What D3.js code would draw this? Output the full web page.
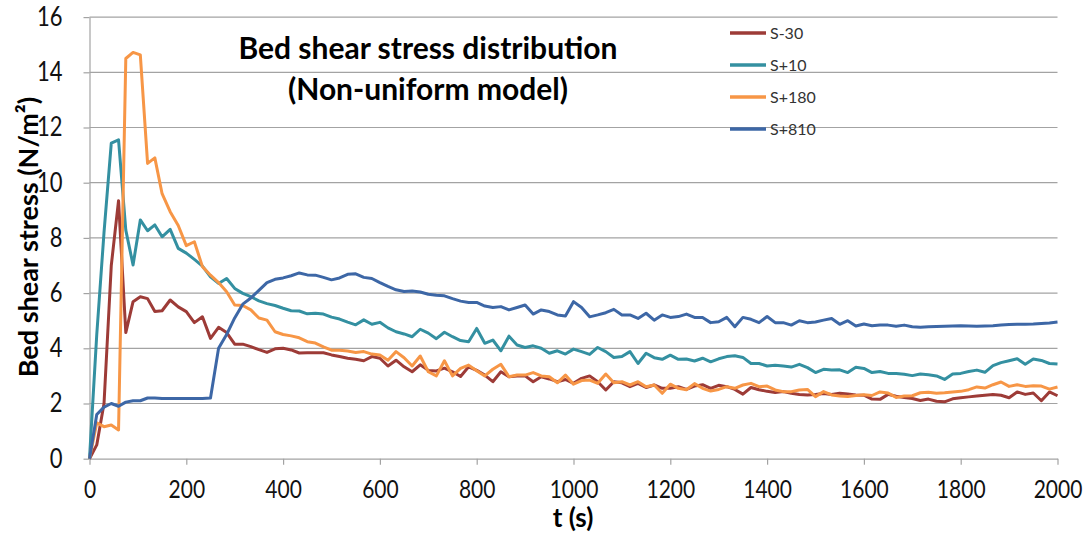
<!DOCTYPE html>
<html>
<head>
<meta charset="utf-8">
<script src="https://cdn.jsdelivr.net/npm/d3@7"></script>
<style>
  body { margin: 0; background: #fff; }
  svg { display: block; }
  text { font-family: Lato, "Open Sans", "DejaVu Sans", sans-serif; }
</style>
</head>
<body>
<svg id="chart" width="1090" height="533"></svg>
<script>
// Sampling times (s): finer steps at the start, then a regular 16.67 s output interval
const timesEarly = [0, 15, 30, 45, 60, 75, 90, 105, 120, 135];
const times = timesEarly.concat(d3.range(112).map(k => 150 + k * 50 / 3));

// Bed shear stress (N/m²) at each sampling time
const sMinus30 = [
  0, 0.5, 2.0, 7.0, 9.35, 4.57, 5.69, 5.87, 5.8, 5.33, 5.36, 5.75, 5.5, 5.33, 4.93, 5.14, 4.36, 4.76, 4.57, 4.15, 4.15, 4.06, 3.95, 3.85, 3.98,
  4.0, 3.94, 3.83, 3.84, 3.84, 3.84, 3.76, 3.70, 3.64, 3.60, 3.55, 3.70, 3.64, 3.36, 3.57, 3.33, 3.15, 3.40, 3.2, 3.18, 3.28, 3.15, 2.98, 3.33,
  3.2, 3.03, 2.79, 3.15, 2.97, 3.0, 3.0, 2.79, 2.97, 2.89, 2.79, 2.87, 2.73, 2.91, 3.0, 2.79, 2.49, 2.79, 2.75, 2.61, 2.73, 2.58, 2.67, 2.55,
  2.55, 2.61, 2.51, 2.63, 2.68, 2.55, 2.66, 2.61, 2.51, 2.34, 2.58, 2.5, 2.44, 2.40, 2.43, 2.37, 2.33, 2.31, 2.33, 2.36, 2.33, 2.37, 2.34, 2.31,
  2.3, 2.16, 2.15, 2.33, 2.26, 2.22, 2.18, 2.11, 2.16, 2.08, 2.06, 2.17, 2.21, 2.24, 2.27, 2.3, 2.33, 2.3, 2.21, 2.42, 2.33, 2.38, 2.1, 2.42, 2.28
];
const sPlus10 = [
  0, 4.5, 8.2, 11.43, 11.55, 8.28, 7.02, 8.65, 8.26, 8.47, 8.04, 8.31, 7.62, 7.45, 7.22, 6.98, 6.59, 6.35, 6.53, 6.17, 5.99, 5.87, 5.72, 5.62, 5.55,
  5.45, 5.36, 5.35, 5.25, 5.27, 5.24, 5.13, 5.06, 4.95, 4.85, 5.03, 4.87, 4.94, 4.74, 4.6, 4.52, 4.42, 4.69, 4.55, 4.35, 4.58, 4.42, 4.28, 4.24,
  4.72, 4.18, 4.30, 3.91, 4.44, 4.12, 4.03, 4.09, 4.0, 3.82, 3.91, 3.79, 3.97, 3.88, 3.78, 4.03, 3.88, 3.67, 3.70, 3.88, 3.45, 3.82, 3.66, 3.60,
  3.75, 3.60, 3.61, 3.54, 3.64, 3.51, 3.62, 3.70, 3.73, 3.67, 3.45, 3.45, 3.36, 3.39, 3.36, 3.32, 3.42, 3.30, 3.12, 3.24, 3.21, 3.22, 3.12, 3.31,
  3.27, 3.12, 3.16, 3.09, 3.09, 3.06, 3.01, 3.07, 3.04, 3.0, 2.87, 3.07, 3.09, 3.16, 3.21, 3.13, 3.37, 3.48, 3.55, 3.62, 3.42, 3.61, 3.56, 3.45, 3.43
];
const sPlus180 = [
  0, 1.3, 1.16, 1.22, 1.04, 14.5, 14.72, 14.63, 10.7, 10.9, 9.6, 8.95, 8.45, 7.72, 7.86, 6.96, 6.65, 6.38, 6.05, 5.57, 5.55, 5.39, 5.1, 5.02, 4.6,
  4.5, 4.45, 4.38, 4.24, 4.19, 4.05, 3.93, 3.93, 3.9, 3.85, 3.88, 3.79, 3.76, 3.57, 3.88, 3.66, 3.36, 3.72, 3.15, 3.0, 3.55, 3.0, 3.27, 3.39,
  3.19, 3.0, 3.24, 3.42, 2.97, 3.03, 3.03, 3.12, 3.0, 2.97, 2.75, 3.03, 2.70, 2.83, 2.85, 2.73, 3.07, 2.75, 2.79, 2.67, 2.79, 2.61, 2.67, 2.37,
  2.7, 2.55, 2.5, 2.72, 2.55, 2.45, 2.51, 2.61, 2.55, 2.67, 2.73, 2.61, 2.63, 2.49, 2.43, 2.43, 2.49, 2.51, 2.25, 2.43, 2.31, 2.27, 2.25, 2.29,
  2.32, 2.29, 2.42, 2.38, 2.22, 2.27, 2.28, 2.39, 2.41, 2.37, 2.39, 2.42, 2.44, 2.5, 2.6, 2.56, 2.68, 2.78, 2.62, 2.68, 2.62, 2.64, 2.63, 2.52, 2.6
];
const sPlus810 = [
  0, 1.6, 1.87, 2.0, 1.9, 2.05, 2.1, 2.1, 2.2, 2.2, 2.18, 2.18, 2.18, 2.18, 2.18, 2.18, 2.2, 4.0, 4.5, 5.1, 5.6, 5.82, 6.1, 6.38, 6.5,
  6.55, 6.63, 6.73, 6.66, 6.65, 6.57, 6.48, 6.55, 6.68, 6.70, 6.57, 6.53, 6.38, 6.24, 6.12, 6.06, 6.08, 6.04, 5.96, 5.92, 5.9, 5.8, 5.71, 5.66,
  5.66, 5.53, 5.48, 5.51, 5.39, 5.48, 5.57, 5.24, 5.39, 5.33, 5.21, 5.17, 5.69, 5.48, 5.14, 5.21, 5.29, 5.41, 5.21, 5.21, 5.08, 5.27, 5.02, 5.21,
  5.12, 5.15, 5.24, 5.12, 5.12, 4.93, 4.96, 5.12, 4.78, 5.12, 5.05, 4.93, 5.15, 4.93, 4.93, 4.84, 5.0, 4.93, 4.95, 5.02, 5.08, 4.87, 5.0, 4.81,
  4.88, 4.82, 4.84, 4.84, 4.80, 4.84, 4.78, 4.76, 4.78, 4.79, 4.80, 4.81, 4.82, 4.81, 4.80, 4.81, 4.82, 4.84, 4.86, 4.87, 4.87, 4.88, 4.90, 4.92, 4.95
];

const seriesNames = ["S-30", "S+10", "S+180", "S+810"];
const seriesColors = ["#9d3b37", "#3490a1", "#f79646", "#3d67a6"];
const seriesValues = [sMinus30, sPlus10, sPlus180, sPlus810];

const xTicks = d3.range(0, 2001, 200);
const yTicks = d3.range(0, 17, 2);

const svg = d3.select("#chart");
const plot = { left: 89.5, right: 1057.5, top: 17.1, bottom: 458.7 };

const x = d3.scaleLinear().domain([0, 2000]).range([plot.left, plot.right]);
const y = d3.scaleLinear().domain([0, 16]).range([plot.bottom, plot.top]);

const axisGrey = "#a3a3a3";
const labelFont = "Lato, 'Open Sans', sans-serif";

// Horizontal gridlines
svg.append("g")
  .selectAll("line")
  .data(yTicks.filter(v => v > 0))
  .join("line")
  .attr("x1", plot.left).attr("x2", plot.right)
  .attr("y1", d => y(d)).attr("y2", d => y(d))
  .attr("stroke", axisGrey).attr("stroke-width", 1.2);

// Y axis
const yAxis = svg.append("g")
  .attr("transform", `translate(${plot.left},0)`)
  .call(d3.axisLeft(y).tickValues(yTicks).tickFormat(d3.format("d"))
    .tickSize(6).tickSizeOuter(0).tickPadding(21));
yAxis.select(".domain").attr("stroke", axisGrey).attr("stroke-width", 1.2);
yAxis.selectAll(".tick line").attr("stroke", axisGrey).attr("stroke-width", 1.2);
yAxis.selectAll(".tick text")
  .attr("font-size", 22).attr("fill", "#111").attr("font-family", labelFont)
  .attr("transform", "scale(1,1.2)");

// X axis
const xAxis = svg.append("g")
  .attr("transform", `translate(0,${plot.bottom})`)
  .call(d3.axisBottom(x).tickValues(xTicks).tickFormat(d3.format("d"))
    .tickSize(6).tickSizeOuter(0).tickPadding(17));
xAxis.select(".domain").attr("stroke", axisGrey).attr("stroke-width", 1.2);
xAxis.selectAll(".tick line").attr("stroke", axisGrey).attr("stroke-width", 1.2);
xAxis.selectAll(".tick text")
  .attr("font-size", 21).attr("fill", "#111").attr("font-family", labelFont)
  .attr("transform", "translate(0,31) scale(1,1.2) translate(0,-31)");

// Series lines
const line = d3.line()
  .x((d, i) => x(times[i]))
  .y(d => y(d));

svg.append("g")
  .selectAll("path")
  .data(seriesValues)
  .join("path")
  .attr("d", d => line(d))
  .attr("fill", "none")
  .attr("stroke", (d, i) => seriesColors[i])
  .attr("stroke-width", 3)
  .attr("stroke-linejoin", "round");

// Legend
const legend = svg.append("g").attr("transform", "translate(730,33)");
const legendRows = legend.selectAll("g")
  .data(seriesNames)
  .join("g")
  .attr("transform", (d, i) => `translate(0,${i * 32})`);
legendRows.append("line")
  .attr("x1", 0).attr("x2", 36).attr("y1", 0).attr("y2", 0)
  .attr("stroke", (d, i) => seriesColors[i]).attr("stroke-width", 3.5);
legendRows.append("text")
  .attr("x", 40).attr("y", 6)
  .attr("font-size", 16).attr("fill", "#333")
  .text(d => d);

// Title
const title = svg.append("g").attr("font-weight", "bold").attr("fill", "#000").attr("text-anchor", "middle");
title.append("text").attr("x", 428).attr("y", 59).attr("font-size", 30).text("Bed shear stress distribution");
title.append("text").attr("x", 428).attr("y", 100).attr("font-size", 30).text("(Non-uniform model)");

// Axis titles
svg.append("text")
  .attr("transform", "translate(38,237) rotate(-90)")
  .attr("text-anchor", "middle")
  .attr("font-weight", "bold").attr("font-size", 27).attr("fill", "#000")
  .text("Bed shear stress (N/m²)");

svg.append("text")
  .attr("x", 573).attr("y", 527)
  .attr("text-anchor", "middle")
  .attr("font-weight", "bold").attr("font-size", 26).attr("fill", "#000")
  .text("t (s)");
</script>
</body>
</html>
